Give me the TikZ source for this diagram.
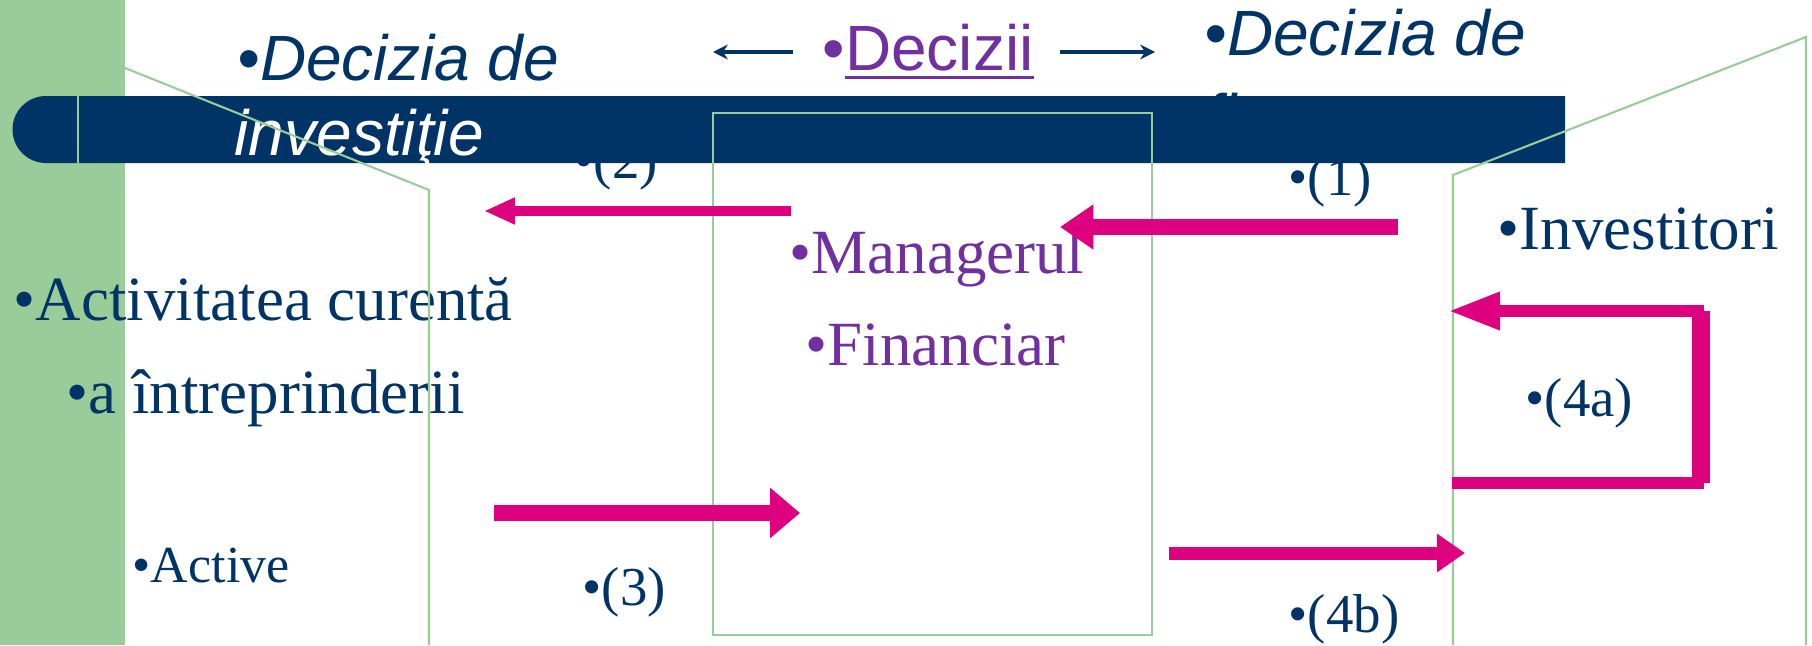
\documentclass[tikz,border=0pt]{standalone}
\usepackage{fontspec}
\setmainfont{Liberation Serif}
\newfontfamily\arial{Liberation Sans}
\usepackage{tikz}
\usetikzlibrary{arrows.meta}
\definecolor{navy}{RGB}{0,51,102}
\definecolor{lgreen}{RGB}{153,204,153}
\definecolor{mag}{RGB}{221,0,127}
\definecolor{purp}{RGB}{112,48,160}
\newcommand{\ulbar}[1]{\setbox0\hbox{#1}\rlap{\rule[-2.6pt]{\wd0}{0.85pt}}\box0}

\begin{document}
\begin{tikzpicture}[x=0.01cm, y=-0.01cm,
 txt/.style={anchor=base west, inner sep=0pt, text=navy, font=\fontsize{17.9}{21}\selectfont},
 sans/.style={txt, font=\arial\itshape\fontsize{18.2}{21}\selectfont},
 lbl/.style={txt, font=\fontsize{15.6}{18}\selectfont},
 outl/.style={draw=lgreen, line width=0.6pt},
 thin/.style={draw=navy, line width=0.9pt, -{Stealth[length=4.2pt,width=4.2pt]}}]
\useasboundingbox (0,0) rectangle (1812,645);
\fill[lgreen] (0,0) rectangle (125,645);
\foreach \n/\xx/\yy in {1/1288/195, 2/574/178, 3/582/605, 4a/1525/416, 4b/1288/632}
 {\node[lbl] (l\n) at (\xx,\yy) {•(\n)};}
\node[sans] (dfin) at (1204,55) {•Decizia de};
\node[sans] (dfin2) at (1204,139) {finanţare};
% banner
\fill[navy] (46,96) -- (1565,96) -- (1565,163) -- (46,163) arc[start angle=90, end angle=270, radius=33.5] -- cycle;
\draw[outl] (78,96) -- (78,163);
\node[sans] (dinv) at (237,80) {•Decizia de};
\node[sans, text=white] (dinv2) at (234,155) {investiţie};
\node[sans, font=\arial\fontsize{18.2}{21}\selectfont, text=purp] (dec) at (822,70) {•\ulbar{Decizii}};
\coordinate (dl) at (793,52); \coordinate (dlt) at (713,52);
\coordinate (dr) at (1060,52); \coordinate (drt) at (1155,52);
\draw[thin] (dl) -- (dlt);
\draw[thin] (dr) -- (drt);
\node[txt] (act) at (13,320) {•Activitatea curentă};
\node[txt] (intr) at (66,413) {•a întreprinderii};
\node[txt, font=\fontsize{14.8}{17}\selectfont] (activ) at (132,582) {•Active};
\node[txt, text=purp] (mgr) at (789,273) {•Managerul};
\node[txt, text=purp] (fin) at (805,365) {•Financiar};
\node[txt] (inv) at (1497,249) {•Investitori};
% outlines
\draw[outl] (125,68) -- (429,190) -- (429,645);
\draw[outl] (713,113) rectangle (1152,635);
\draw[outl] (1453,645) -- (1453,175) -- (1806,37) -- (1806,645);
% flows
\foreach \n/\xa/\xb/\yy/\w/\l/\h in {1/1398/1060/227/4.3/9.5/12.2, 2/791/484/211/3.1/8.8/7.1,
 3/494/800/513/4.8/8.5/13.8, 4b/1169/1465/553/3.7/8/10.5}{
 \coordinate (s\n) at (\xa,\yy); \coordinate (e\n) at (\xb,\yy);
 \draw[mag, line width=\w pt, -{Triangle[length=\l pt, width=\h pt]}] (s\n) -- (e\n);}
\coordinate (b4a) at (1452,483); \coordinate (c1) at (1698,483);
\coordinate (c2) at (1698,311); \coordinate (t4a) at (1448,311);
\draw[mag, line width=3.4pt, -{Triangle[length=14.8pt, width=10pt]}] (b4a) -- (c1) -- (c2) -- (t4a);
\draw[mag, line width=5.1pt] ([xshift=0.03cm]c1) -- ([xshift=0.03cm]c2);
\end{tikzpicture}
\end{document}
